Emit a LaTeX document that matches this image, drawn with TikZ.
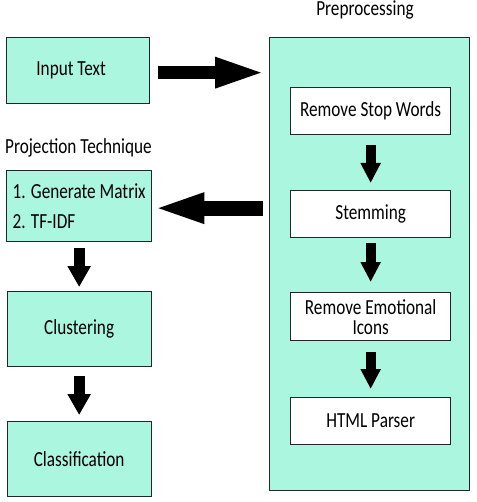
\documentclass[tikz,border=0pt]{standalone}
\usepackage{fontspec}
\setmainfont{Carlito}[FakeStretch=0.8]
\usetikzlibrary{arrows.meta,positioning}
\definecolor{aqua}{RGB}{170,246,222}
\definecolor{edge}{RGB}{30,40,40}
\begin{document}
\begin{tikzpicture}[
  font=\fontsize{21.5}{20}\selectfont, node distance=50pt,
  stage/.style={draw=edge, line width=1.3pt, fill=aqua, align=center,
                minimum width=144pt, minimum height=75pt, inner sep=2pt},
  inner/.style={draw=edge, line width=1.3pt, fill=white, align=center,
                minimum width=160pt, minimum height=47pt, inner sep=2pt},
  bigflow/.style={line width=13pt, -{Triangle[length=52pt,width=27pt]}},
  downflow/.style={line width=10pt, -{Triangle[length=20pt,width=19pt]}}]
\useasboundingbox (0,0) rectangle (476pt,-502pt);
\node[stage, minimum height=66pt, minimum width=143pt, anchor=north west]
  at (6pt,-37pt) (input) {Input Text\hspace*{14pt}};
\node[stage, minimum width=200pt, minimum height=453pt, anchor=north west]
  at (269pt,-37pt) (pre) {};
\node[anchor=base] at (365pt,-16pt) (prelabel) {Preprocessing};
\node[inner, anchor=north west] at (290pt,-87pt) (stop) {Remove Stop Words};
\node[inner, below=54.7pt of stop] (stem) {Stemming};
\node[inner, below=53.7pt of stem, minimum height=48pt] (emo)
  {Remove Emotional\\Icons};
\node[inner, below=55.7pt of emo] (html) {HTML Parser};
\node[stage, minimum width=145pt, minimum height=71pt, anchor=north west,
      align=left, font=\fontsize{21.5}{30}\selectfont]
  at (6pt,-170pt) (proj) {1. Generate Matrix\\2. TF-IDF};
\node[anchor=base west, inner sep=0pt] at (5pt,-154pt) (projlabel)
  {Projection Technique};
\node[stage, below=48.7pt of proj] (clust) {Clustering};
\node[stage, below=53.7pt of clust] (classif) {Classification};
% block arrows
\draw[bigflow, shorten <=8pt, shorten >=2pt]
  ([yshift=-2pt]input.east) -- ([yshift=-2pt]input.east -| pre.west);
\draw[bigflow, line width=15pt, shorten <=6pt, shorten >=0pt]
  ([yshift=-2pt]proj.east -| pre.west) -- ([yshift=-2pt]proj.east);
\draw[downflow, shorten <=10pt, shorten >=7pt] (stop) -- (stem);
\draw[downflow, shorten <=5pt, shorten >=10pt] (stem) -- (emo);
\draw[downflow, shorten <=11pt, shorten >=8pt] (emo) -- (html);
\draw[downflow, line width=11pt, -{Triangle[length=21pt,width=22pt]},
      shorten <=6pt, shorten >=4pt] (proj) -- (clust);
\draw[downflow, line width=11pt, -{Triangle[length=21pt,width=22pt]},
      shorten <=9pt, shorten >=6pt] (clust) -- (classif);
\end{tikzpicture}
\end{document}
